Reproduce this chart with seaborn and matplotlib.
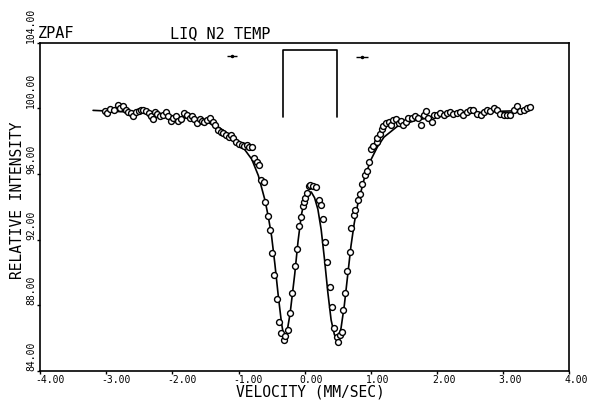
import matplotlib
matplotlib.use("Agg")
import matplotlib.pyplot as plt
import matplotlib.transforms as mtransforms
import seaborn as sns
import pandas as pd

# measured points (velocity mm/s, relative intensity)
vel = [-3.02, -2.99, -2.94, -2.89, -2.83, -2.79, -2.74, -2.70, -2.67, -2.63,
       -2.59, -2.55, -2.51, -2.48, -2.44, -2.40, -2.36, -2.33, -2.30, -2.26,
       -2.23, -2.19, -2.15, -2.10, -2.06, -2.02, -1.99, -1.94, -1.91, -1.87,
       -1.82, -1.78, -1.74, -1.71, -1.67, -1.63, -1.59, -1.56, -1.52, -1.48,
       -1.43, -1.39, -1.35, -1.31, -1.27, -1.23, -1.19, -1.15, -1.12, -1.08,
       -1.04, -1.00, -0.95, -0.91, -0.87, -0.84, -0.80, -0.77, -0.72, -0.69,
       -0.66, -0.62, -0.60, -0.56, -0.52, -0.50, -0.46, -0.42, -0.39, -0.36,
       -0.32, -0.29, -0.25, -0.22, -0.19, -0.15, -0.12, -0.09, -0.06, -0.03,
       -0.01, 0.01, 0.03, 0.06, 0.08, 0.13, 0.17, 0.21, 0.25, 0.28,
       0.31, 0.34, 0.38, 0.41, 0.45, 0.49, 0.51, 0.54, 0.56, 0.58,
       0.61, 0.64, 0.68, 0.70, 0.74, 0.76, 0.80, 0.84, 0.87, 0.92,
       0.94, 0.98, 1.00, 1.04, 1.09, 1.10, 1.14, 1.17, 1.19, 1.23,
       1.27, 1.30, 1.34, 1.38, 1.42, 1.46, 1.49, 1.54, 1.57, 1.62,
       1.67, 1.72, 1.76, 1.80, 1.84, 1.87, 1.92, 1.95, 2.00, 2.05,
       2.10, 2.15, 2.20, 2.25, 2.30, 2.35, 2.40, 2.45, 2.50, 2.55,
       2.61, 2.66, 2.71, 2.76, 2.81, 2.86, 2.91, 2.96, 3.01, 3.06,
       3.11, 3.16, 3.21, 3.26, 3.31, 3.36, 3.41]
intensity = [99.85, 99.71, 99.98, 99.91, 100.22, 100.02, 100.12, 99.91, 99.81, 99.71,
             99.51, 99.77, 99.85, 99.91, 99.91, 99.85, 99.71, 99.51, 99.37, 99.81,
             99.65, 99.51, 99.61, 99.81, 99.51, 99.24, 99.41, 99.51, 99.24, 99.37,
             99.71, 99.57, 99.44, 99.51, 99.37, 99.10, 99.37, 99.24, 99.16, 99.30,
             99.44, 99.20, 99.00, 98.69, 98.55, 98.49, 98.39, 98.23, 98.39, 98.19,
             97.98, 97.82, 97.75, 97.70, 97.78, 97.62, 97.64, 96.97, 96.76, 96.56,
             95.65, 95.54, 94.32, 93.41, 92.60, 91.18, 89.85, 88.37, 87.00, 86.33,
             85.89, 86.13, 86.50, 87.55, 88.74, 90.40, 91.42, 92.84, 93.40, 94.02,
             94.32, 94.55, 94.85, 95.28, 95.30, 95.28, 95.20, 94.43, 94.10, 93.25,
             91.88, 90.66, 89.14, 87.92, 86.60, 86.05, 85.78, 86.19, 86.39, 87.68,
             88.74, 90.11, 91.24, 92.70, 93.51, 93.82, 94.43, 94.79, 95.38, 95.91,
             96.21, 96.76, 97.52, 97.68, 97.98, 98.19, 98.43, 98.74, 98.90, 99.10,
             99.20, 99.00, 99.30, 99.37, 99.10, 99.26, 98.96, 99.20, 99.41, 99.44,
             99.51, 99.41, 99.00, 99.57, 99.85, 99.41, 99.20, 99.61, 99.61, 99.71,
             99.57, 99.71, 99.81, 99.65, 99.71, 99.77, 99.61, 99.81, 99.91, 99.91,
             99.65, 99.57, 99.81, 99.91, 99.85, 100.02, 99.91, 99.65, 99.57, 99.61,
             99.61, 99.91, 100.12, 99.85, 99.91, 100.02, 100.06]

# fitted curve
fit_vel = [-3.20, -2.50, -2.00, -1.50, -1.30, -1.10, -1.00, -0.90, -0.80, -0.70,
           -0.60, -0.55, -0.50, -0.45, -0.40, -0.35, -0.32, -0.30, -0.27, -0.22,
           -0.15, -0.10, -0.05, 0.00, 0.05, 0.10, 0.15, 0.20, 0.25, 0.30,
           0.35, 0.40, 0.45, 0.49, 0.52, 0.55, 0.60, 0.65, 0.70, 0.75,
           0.80, 0.90, 1.00, 1.10, 1.20, 1.40, 1.70, 2.00, 2.50, 3.00, 3.41]
fit_int = [99.88, 99.75, 99.55, 99.20, 98.85, 98.30, 97.90, 97.45, 96.90, 95.90,
           94.40, 93.40, 92.20, 90.50, 88.60, 86.90, 86.20, 86.00, 86.30, 87.50,
           89.90, 91.90, 93.50, 94.45, 94.85, 94.90, 94.55, 93.85, 92.60, 90.80,
           88.80, 87.10, 86.20, 85.95, 86.10, 86.60, 88.00, 89.80, 91.60, 93.00,
           94.10, 95.70, 96.85, 97.65, 98.25, 98.90, 99.30, 99.50, 99.72, 99.83, 99.88]

# stick diagram of the doublet
stick_pos = [-0.33, 0.49]
stick_low = 99.49
stick_top = 103.57

# small marks near top
mark_vel = [-1.10, 0.87]
mark_int = [103.17, 103.13]
mark_half = [0.08, 0.09]

xticks = [-4, -3, -2, -1, 0, 1, 2, 3, 4]
yticks = [84, 88, 92, 96, 100, 104]

sns.set_theme(style="white")
plt.rcParams['font.family'] = ['DejaVu Sans Mono', 'DejaVu Sans']
plt.rcParams['axes.unicode_minus'] = False

fig = plt.figure(figsize=(5.91, 4.0), dpi=100)
ax = fig.add_axes([0.068, 0.073, 0.895, 0.82])

pts = pd.DataFrame({"v": vel, "i": intensity})
fit = pd.DataFrame({"v": fit_vel, "i": fit_int})

sns.lineplot(data=fit, x="v", y="i", color="black", linewidth=1.2, ax=ax, zorder=2)
sns.scatterplot(data=pts, x="v", y="i", marker="o", s=18, facecolor="white",
                edgecolor="black", linewidth=1.0, ax=ax, zorder=3)

ax.plot([stick_pos[0], stick_pos[0], stick_pos[1], stick_pos[1]],
        [stick_low, stick_top, stick_top, stick_low], color="black", linewidth=1.2)
ax.errorbar(mark_vel, mark_int, xerr=mark_half, fmt="o", color="black",
            markersize=1.5, elinewidth=1.0, capsize=0)

ax.set_xlim(-4, 4)
ax.set_ylim(84, 104)
ax.set_xticks(xticks)
ax.set_yticks(yticks)
ax.set_xticklabels(["%.2f" % t for t in xticks], fontsize=7)
ax.set_yticklabels(["%.2f" % t for t in yticks], fontsize=7, rotation=90)
ax.set_xlabel("")
ax.set_ylabel("")
ax.tick_params(axis="both", direction="out", length=2.5, width=1, color="black",
               pad=0.5, labelcolor="black")
ax.tick_params(axis="x", bottom=True)
ax.tick_params(axis="y", left=True)

shift = mtransforms.ScaledTranslation(-5 / 100, 0, fig.dpi_scale_trans)
for lab in ax.get_xticklabels():
    lab.set_horizontalalignment("left")
    lab.set_transform(lab.get_transform() + shift)
for lab in ax.get_yticklabels():
    lab.set_verticalalignment("bottom")

for sp in ax.spines.values():
    sp.set_visible(True)
    sp.set_color("black")
    sp.set_linewidth(1.2)

fig.text(0.064, 0.905, "ZPAF", fontsize=11, color="black")
fig.text(0.288, 0.905, "LIQ N2 TEMP", fontsize=11, color="black")
fig.text(0.030, 0.50, "RELATIVE INTENSITY", fontsize=10.5, rotation=90,
         ha="center", va="center", color="black")
fig.text(0.525, 0.020, "VELOCITY (MM/SEC)", fontsize=10.5, ha="center",
         va="center", color="black")

fig.savefig("out.png", dpi=100, facecolor="white")
